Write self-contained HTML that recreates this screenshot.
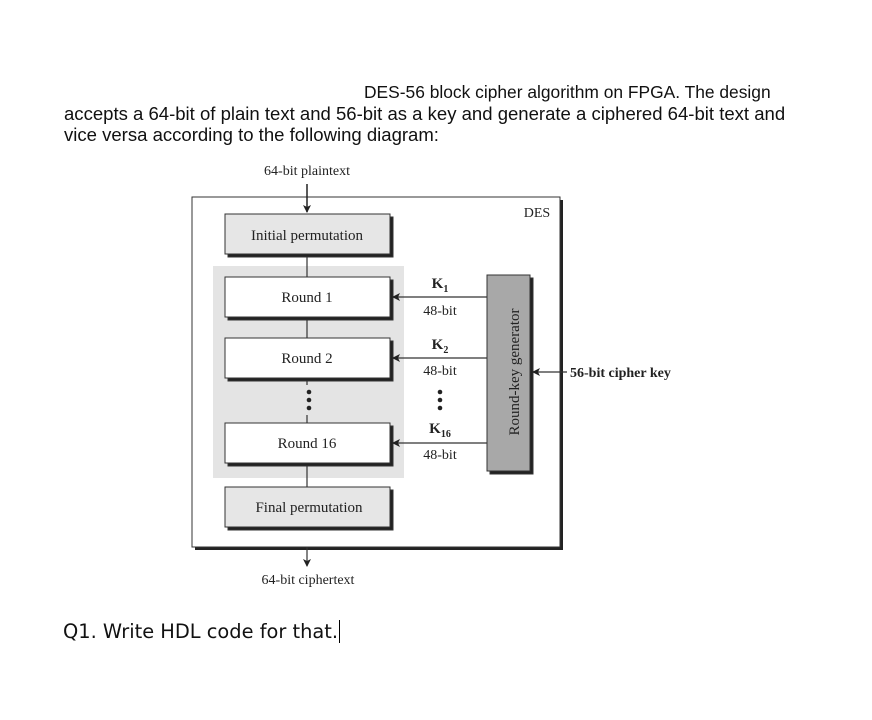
<!DOCTYPE html>
<html><head><style>
body{margin:0;background:#fff;width:872px;height:720px;overflow:hidden;position:relative;font-family:"Liberation Sans",sans-serif}
.t{position:absolute;font-size:18px;color:#111;white-space:nowrap}
svg text{font-family:"Liberation Serif",serif;fill:#222}
</style></head><body>
<div class="t" style="left:364px;top:82px;font-size:17.4px">DES-56 block cipher algorithm on FPGA. The design</div>
<div class="t" style="left:64px;top:103px;font-size:18.55px">accepts a 64-bit of plain text and 56-bit as a key and generate a ciphered 64-bit text and</div>
<div class="t" style="left:64px;top:124px;font-size:18.55px">vice versa according to the following diagram:</div>
<div class="t" style="left:63px;top:620px;font-size:19.4px;font-family:'DejaVu Sans',sans-serif;">Q1. Write HDL code for that.<span style="border-left:1px solid #000;margin-left:1px"></span></div>
<svg width="872" height="720" style="position:absolute;left:0;top:0">
<defs><marker id="a" markerWidth="8" markerHeight="8" refX="7" refY="4" orient="auto" markerUnits="userSpaceOnUse"><path d="M0,0L8,4L0,8L2,4z" fill="#222"/></marker></defs>
<text x="307" y="175" font-size="14" text-anchor="middle">64-bit plaintext</text>
<rect x="195" y="200" width="368" height="350" fill="#222"/>
<rect x="192" y="197" width="368" height="350" fill="#fff" stroke="#333"/>
<text x="537" y="217" font-size="14" text-anchor="middle">DES</text>
<line x1="307" y1="184" x2="307" y2="212" stroke="#222" stroke-width="1.5" marker-end="url(#a)"/>
<rect x="213" y="266" width="191" height="212" fill="#e4e4e4"/>
<line x1="307" y1="254" x2="307" y2="530" stroke="#333" stroke-width="1.2"/>
<g stroke="#333">
<rect x="228" y="217" width="165" height="40" fill="#222"/><rect x="225" y="214" width="165" height="40" fill="#e6e6e6"/>
<rect x="228" y="280" width="165" height="40" fill="#222"/><rect x="225" y="277" width="165" height="40" fill="#fff"/>
<rect x="228" y="341" width="165" height="40" fill="#222"/><rect x="225" y="338" width="165" height="40" fill="#fff"/>
<rect x="228" y="426" width="165" height="40" fill="#222"/><rect x="225" y="423" width="165" height="40" fill="#fff"/>
<rect x="228" y="490" width="165" height="40" fill="#222"/><rect x="225" y="487" width="165" height="40" fill="#e6e6e6"/>
<rect x="490" y="278" width="43" height="196" fill="#222"/><rect x="487" y="275" width="43" height="196" fill="#a8a8a8"/>
</g>
<rect x="300" y="385" width="14" height="30" fill="#e4e4e4"/>
<text x="307" y="240" font-size="15" text-anchor="middle">Initial permutation</text>
<text x="307" y="302" font-size="15" text-anchor="middle">Round 1</text>
<text x="307" y="363" font-size="15" text-anchor="middle">Round 2</text>
<text x="307" y="448" font-size="15" text-anchor="middle">Round 16</text>
<text x="309" y="512" font-size="15" text-anchor="middle">Final permutation</text>
<g fill="#222"><circle cx="309" cy="392" r="2.3"/><circle cx="309" cy="400" r="2.3"/><circle cx="309" cy="408" r="2.3"/>
<circle cx="440" cy="392" r="2.3"/><circle cx="440" cy="400" r="2.3"/><circle cx="440" cy="408" r="2.3"/></g>
<g stroke="#333" stroke-width="1.2">
<line x1="487" y1="297" x2="393" y2="297" marker-end="url(#a)"/>
<line x1="487" y1="358" x2="393" y2="358" marker-end="url(#a)"/>
<line x1="487" y1="443" x2="393" y2="443" marker-end="url(#a)"/>
<line x1="567" y1="372" x2="533" y2="372" marker-end="url(#a)"/>
<line x1="307" y1="547" x2="307" y2="566" marker-end="url(#a)"/>
</g>
<text x="440" y="288" font-size="15" font-weight="bold" text-anchor="middle">K<tspan font-size="10" dy="4">1</tspan></text>
<text x="440" y="315" font-size="14" text-anchor="middle">48-bit</text>
<text x="440" y="349" font-size="15" font-weight="bold" text-anchor="middle">K<tspan font-size="10" dy="4">2</tspan></text>
<text x="440" y="375" font-size="14" text-anchor="middle">48-bit</text>
<text x="440" y="433" font-size="15" font-weight="bold" text-anchor="middle">K<tspan font-size="10" dy="4">16</tspan></text>
<text x="440" y="459" font-size="14" text-anchor="middle">48-bit</text>
<text x="514" y="372" font-size="15" text-anchor="middle" transform="rotate(-90 514 372)" dy="5">Round-key generator</text>
<text x="570" y="377" font-size="14" font-weight="bold">56-bit cipher key</text>
<text x="308" y="584" font-size="14" text-anchor="middle">64-bit ciphertext</text>
</svg>
</body></html>
